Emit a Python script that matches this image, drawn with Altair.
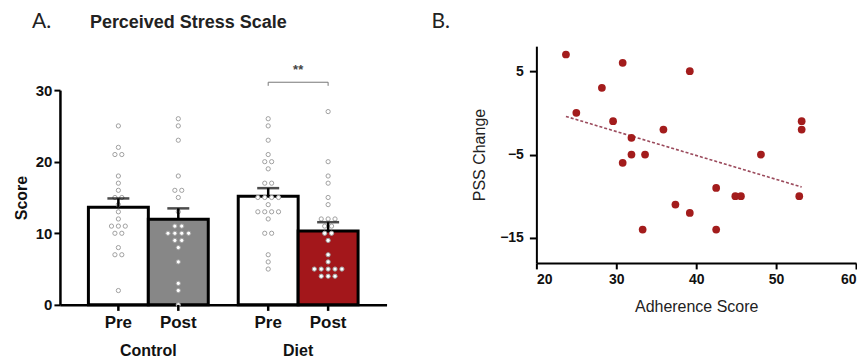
import altair as alt
import pandas as pd

# ---------------- data ----------------
groups = ["Control", "Diet"]
times = ["Pre", "Post"]
control_pre = [25, 22, 21, 21, 18, 17, 16, 15, 15, 14, 13, 12, 11, 11, 11, 10, 10, 8, 7, 7, 2]
control_post = [26, 25, 23, 18, 16, 16, 15, 13, 11, 11, 10, 10, 10, 10, 9, 9, 8, 6, 3, 2, 0]
diet_pre = [26, 25, 23, 21, 20, 20, 19, 17, 17, 15, 15, 15, 15, 14, 13, 13, 13, 13, 12, 10, 10, 7, 6, 5]
diet_post = [27, 20, 18, 17, 15, 14, 12, 12, 12, 11, 11, 10, 10, 9, 7, 6, 5, 5, 5, 5, 5, 4, 4, 4]
bar_keys = ["Control Pre", "Control Post", "Diet Pre", "Diet Post"]
bar_fills = ["#ffffff", "#878787", "#ffffff", "#a3171b"]
sig_label = ["**"]
panel_titles = ["A.", "Perceived Stress Scale", "B."]

adherence = [23.7, 30.8, 28.2, 39.2, 25.0, 29.6, 35.9, 31.9, 31.9, 33.6, 30.8,
             53.2, 53.2, 48.1, 42.5, 44.9, 45.6, 52.9, 37.4, 39.2, 33.3, 42.5]
pss_change = [7, 6, 3, 5, 0, -1, -2, -3, -5, -5, -6,
              -1, -2, -5, -9, -10, -10, -10, -11, -12, -14, -14]

# ---------------- tables ----------------
rows = []
for g, t, vals in [("Control", "Pre", control_pre), ("Control", "Post", control_post),
                   ("Diet", "Pre", diet_pre), ("Diet", "Post", diet_post)]:
    for v in vals:
        rows.append({"group": g, "time": t, "score": v})
df = pd.DataFrame(rows)
cats = pd.DataFrame([{"group": g, "time": t} for g in groups for t in times])
grp = pd.DataFrame({"group": groups})
bracket = pd.DataFrame({"group": ["Diet"] * 4, "time": ["Pre", "Pre", "Post", "Post"],
                        "b": [30.6, 31.1, 31.1, 30.6], "o": [0, 1, 2, 3]})
sig = pd.DataFrame({"group": ["Diet"], "s": sig_label, "yv": [32.8]})
dfB = pd.DataFrame({"adherence": adherence, "pss": pss_change})

FONT = "Liberation Sans"
W_A, H_A = 327, 215
W_B = 320
B_TOP, B_BOTTOM = -44, 173     # panel B plot area relative to panel A plot top
P_IN, P_OUT = 0.2, 0.19
step = W_A / (2 - P_IN + 2 * P_OUT)
bw = step * (1 - P_IN)

XO = "(datum.time == 'Pre' ? -1 : 1)"

x_enc = alt.X("group:N", scale=alt.Scale(domain=groups, paddingInner=P_IN, paddingOuter=P_OUT),
              axis=alt.Axis(labels=False, ticks=False, title=None, domainColor="black",
                            domainWidth=2.5))
yscale = alt.Scale(domain=[0, 30], nice=False)
yaxis = alt.Axis(values=[0, 10, 20, 30], title="Score", titleFont=FONT, titleFontSize=16,
                 titleFontWeight="bold", titleColor="#111", titlePadding=6,
                 labelFont=FONT, labelFontSize=15, labelFontWeight="bold", labelColor="#111",
                 labelPadding=2, tickSize=6, tickWidth=2, tickColor="black",
                 domainColor="black", domainWidth=2.5, grid=False)
xoff_nom = alt.XOffset("time:N", scale=alt.Scale(domain=times, paddingInner=0, paddingOuter=0))


def xoff_q():
    return alt.XOffset("xo:Q", scale=alt.Scale(domain=[-2, 2], range=[0, bw]))


base = alt.Chart(df)

bars = base.transform_aggregate(
    mean="mean(score)", groupby=["group", "time"]
).transform_calculate(
    key="datum.group + ' ' + datum.time"
).mark_bar(stroke="black", strokeWidth=3).encode(
    x=x_enc, xOffset=xoff_nom,
    y=alt.Y("mean:Q", scale=yscale, axis=yaxis),
    fill=alt.Fill("key:N", scale=alt.Scale(domain=bar_keys, range=bar_fills), legend=None),
)

dots = base.transform_joinaggregate(
    n="count()", groupby=["group", "time", "score"]
).transform_window(
    r="row_number()", groupby=["group", "time", "score"]
).transform_calculate(
    xo=XO + " + (datum.r - 1 - (datum.n - 1) / 2) * 0.23"
).mark_point(shape="circle", filled=False, fill="white", fillOpacity=1, stroke="#a0a0a0",
             strokeWidth=1, size=18, opacity=1).encode(
    x=x_enc, xOffset=xoff_q(),
    y=alt.Y("score:Q", scale=yscale, axis=yaxis),
)

err = base.transform_aggregate(
    mean="mean(score)", sem="stderr(score)", groupby=["group", "time"]
).transform_calculate(upper="datum.mean + datum.sem", xo=XO)

err_rule = err.mark_rule(color="black", strokeWidth=2.5).encode(
    x=x_enc, xOffset=xoff_q(),
    y=alt.Y("mean:Q", scale=yscale, axis=yaxis), y2="upper:Q")
err_cap = err.mark_tick(color="black", thickness=2.5, size=22).encode(
    x=x_enc, xOffset=xoff_q(),
    y=alt.Y("upper:Q", scale=yscale, axis=yaxis))

cat_base = alt.Chart(cats).transform_calculate(xo=XO)
tick_marks = cat_base.mark_rule(color="black", strokeWidth=2.5).encode(
    x=x_enc, xOffset=xoff_q(), y=alt.value(H_A), y2=alt.value(H_A + 6))
time_labels = cat_base.mark_text(font=FONT, fontSize=17, fontWeight="bold",
                                 color="#111", baseline="middle").encode(
    x=x_enc, xOffset=xoff_q(), y=alt.value(H_A + 18), text="time:N")
group_labels = alt.Chart(grp).mark_text(font=FONT, fontSize=16, fontWeight="bold",
                                        color="#111", baseline="middle").encode(
    x=x_enc, y=alt.value(H_A + 46), text="group:N")

brk = alt.Chart(bracket).transform_calculate(xo=XO).mark_line(
    color="#777", strokeWidth=1).encode(
    x=x_enc, xOffset=xoff_q(), y=alt.Y("b:Q", scale=yscale, axis=yaxis), order="o:Q")
sig_text = alt.Chart(sig).mark_text(font=FONT, fontSize=13, fontWeight="bold",
                                    color="#444", baseline="middle").encode(
    x=x_enc, y=alt.Y("yv:Q", scale=yscale, axis=yaxis), text="s:N")

tA = pd.DataFrame({"t": panel_titles[:1]})
tA2 = pd.DataFrame({"t": panel_titles[1:2]})
tB = pd.DataFrame({"t": panel_titles[2:]})
titleA = alt.Chart(tA).mark_text(font="Lato", fontSize=21, align="left", baseline="middle",
                                 color="#222").encode(
    x=alt.value(-28), y=alt.value(-68.5), text="t:N")
titleA2 = alt.Chart(tA2).mark_text(font=FONT, fontSize=18, fontWeight="bold", align="left",
                                   baseline="middle", color="#222").encode(
    x=alt.value(30), y=alt.value(-67.5), text="t:N")

panelA = alt.layer(
    bars, dots, err_rule, err_cap, tick_marks, time_labels, group_labels, brk, sig_text,
    titleA, titleA2
).resolve_scale(xOffset="independent").properties(width=W_A, height=H_A)

# ---------------- panel B ----------------
xB = alt.X("adherence:Q", scale=alt.Scale(domain=[20, 60], nice=False, zero=False),
           axis=alt.Axis(values=[20, 30, 40, 50, 60], title="Adherence Score",
                         titleFont=FONT, titleFontSize=16, titleFontWeight="normal",
                         titleColor="#222", titlePadding=12,
                         labelFont=FONT, labelFontSize=14, labelFontWeight="bold",
                         labelColor="#111", labelPadding=4, tickSize=6, tickWidth=2,
                         tickColor="black", domainColor="black", domainWidth=2, grid=False))
yB = alt.Y("pss:Q", scale=alt.Scale(domain=[-18, 8], range=[B_BOTTOM, B_TOP],
                                    nice=False, zero=False),
           axis=alt.Axis(values=[5, -5, -15], title="PSS Change",
                         titleFont=FONT, titleFontSize=16, titleFontWeight="normal",
                         titleColor="#222", titlePadding=12,
                         labelFont=FONT, labelFontSize=14, labelFontWeight="bold",
                         labelColor="#111", labelPadding=6, tickSize=7, tickWidth=2,
                         tickColor="black", domainColor="black", domainWidth=2, grid=False))

pts = alt.Chart(dfB).mark_circle(size=60, color="#a31c1c", opacity=1).encode(x=xB, y=yB)
trend = alt.Chart(dfB).transform_regression("adherence", "pss").mark_line(
    color="#9b4a5c", strokeWidth=1.6, strokeDash=[3, 2]).encode(x=xB, y=yB)
titleB = alt.Chart(tB).mark_text(font="Lato", fontSize=21, align="left", baseline="middle",
                                 color="#222").encode(
    x=alt.value(-105), y=alt.value(-68.5), text="t:N")

panelB = alt.layer(trend, pts, titleB).properties(width=W_B, height=B_BOTTOM)

chart = alt.hconcat(panelA, panelB, spacing=45).properties(
    padding={"left": 5, "top": 2, "right": 0, "bottom": 0}
).configure_view(stroke=None)

chart.save("out.html", embed_options={"renderer": "svg", "actions": False})
